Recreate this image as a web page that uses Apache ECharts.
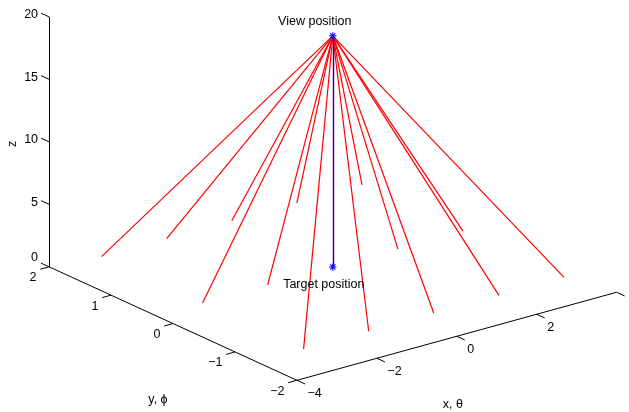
<!DOCTYPE html>
<html>
<head>
<meta charset="utf-8">
<script src="https://cdn.jsdelivr.net/npm/echarts@6/dist/echarts.min.js"></script>
<style>
  html, body { margin: 0; padding: 0; background: #ffffff; }
  #chart { width: 629px; height: 412px; }
</style>
</head>
<body>
<div id="chart"></div>
<script>
// ---- data -------------------------------------------------------------
// limits of the 3-D axes box
const xLimits = [-4, 4];
const yLimits = [-2, 2];
const zLimits = [0, 20];

// tick positions and their labels
const xTicks = [-4, -2, 0, 2, 4];
const xTickLabels = ['\u22124', '\u22122', '0', '2', ''];
const yTicks = [-2, -1, 0, 1, 2];
const yTickLabels = ['\u22122', '\u22121', '0', '1', '2'];
const zTicks = [0, 5, 10, 15, 20];
const zTickLabels = ['0', '5', '10', '15', '20'];

// camera and target
const viewPosition = [0, 0, 19.5];
const targetPosition = [0, 0, 1];

// end points of the rays cast from the view position (x, y, z)
const rayEndX = [-3.26, -1.63, 0, 1.63, 3.26, -3.26, -1.63, 0, 1.63, 3.26, -3.26, -1.63, 0, 1.63, 3.26];
const rayEndY = [1.63, 1.63, 1.63, 1.63, 1.63, 0, 0, 0, 0, 0, -1.63, -1.63, -1.63, -1.63, -1.63];
const rayEndZ = [1, 1, 1, 1, 1, 1, 1, 1, 1, 1, 1, 1, 1, 1, 1];

// ---- view settings ----------------------------------------------------
const AZIMUTH = -37.8;      // degrees
const ELEVATION = 20.8;     // degrees
const BOX_Z = 0.661;        // height of plot box relative to its width/depth
const PX_PER_UNIT = 404.5;  // pixels per normalized box unit
const BOX_CENTRE_PX = [332.8, 154.55];
const WIDTH = 629, HEIGHT = 412;
const TICK_LEN_X = 0.22;    // tick length, in x data units
const TICK_LEN_Y = 0.13;    // tick length, in y data units

const ca = Math.cos(AZIMUTH * Math.PI / 180);
const sa = Math.sin(AZIMUTH * Math.PI / 180);
const ce = Math.cos(ELEVATION * Math.PI / 180);
const se = Math.sin(ELEVATION * Math.PI / 180);

// orthographic projection of a data point onto the viewing plane
function project(x, y, z) {
  const xn = (x - xLimits[0]) / (xLimits[1] - xLimits[0]) - 0.5;
  const yn = (y - yLimits[0]) / (yLimits[1] - yLimits[0]) - 0.5;
  const zn = ((z - zLimits[0]) / (zLimits[1] - zLimits[0]) - 0.5) * BOX_Z;
  return [ca * xn + sa * yn, -sa * se * xn + ca * se * yn + ce * zn];
}

function seg(a, b) {
  return { coords: [project(a[0], a[1], a[2]), project(b[0], b[1], b[2])] };
}

// ---- geometry built from the data -------------------------------------
const axisSegments = [
  seg([xLimits[0], yLimits[0], zLimits[0]], [xLimits[1], yLimits[0], zLimits[0]]),
  seg([xLimits[0], yLimits[0], zLimits[0]], [xLimits[0], yLimits[1], zLimits[0]]),
  seg([xLimits[0], yLimits[1], zLimits[0]], [xLimits[0], yLimits[1], zLimits[1]])
];
xTicks.forEach(function (t) {
  axisSegments.push(seg([t, yLimits[0], zLimits[0]], [t, yLimits[0] - TICK_LEN_Y, zLimits[0]]));
});
yTicks.forEach(function (t) {
  axisSegments.push(seg([xLimits[0], t, zLimits[0]], [xLimits[0] - TICK_LEN_X, t, zLimits[0]]));
});
zTicks.forEach(function (t) {
  axisSegments.push(seg([xLimits[0], yLimits[1], t], [xLimits[0], yLimits[1] + TICK_LEN_Y, t]));
});

const raySegments = rayEndX.map(function (x, i) {
  return seg(viewPosition, [x, rayEndY[i], rayEndZ[i]]);
});
const sightSegment = [seg(viewPosition, targetPosition)];

const markerPoints = [
  project(viewPosition[0], viewPosition[1], viewPosition[2]),
  project(targetPosition[0], targetPosition[1], targetPosition[2])
];

// text items: anchor point, pixel offset, alignment, rotation
const texts = [];
xTicks.forEach(function (t, i) {
  texts.push({ p: project(t, yLimits[0], zLimits[0]), dx: 10.5, dy: 13, text: xTickLabels[i], align: 'left' });
});
yTicks.forEach(function (t, i) {
  texts.push({ p: project(xLimits[0], t, zLimits[0]), dx: -12.5, dy: 11, text: yTickLabels[i], align: 'right' });
});
zTicks.forEach(function (t, i) {
  // lowest label is lifted clear of the y-axis label below it
  texts.push({ p: project(xLimits[0], yLimits[1], t), dx: -11, dy: i === 0 ? -9.5 : -2, text: zTickLabels[i], align: 'right' });
});
texts.push({ p: project(xLimits[0], yLimits[1], (zLimits[0] + zLimits[1]) / 2), dx: -36, dy: 2, text: 'z', align: 'center', rotate: Math.PI / 2 });
texts.push({ p: project(xLimits[0], (yLimits[0] + yLimits[1]) / 2, zLimits[0]), dx: -15, dy: 76, text: 'y, \u03D5', align: 'center' });
texts.push({ p: project((xLimits[0] + xLimits[1]) / 2, yLimits[0], zLimits[0]), dx: -4, dy: 68, text: 'x, \u03B8', align: 'center' });
texts.push({ p: markerPoints[0], dx: -18, dy: -14.6, text: 'View position', align: 'center' });
texts.push({ p: markerPoints[1], dx: -9, dy: 18, text: 'Target position', align: 'center' });

const FONT = '"Liberation Sans", Arial, Helvetica, sans-serif';

const chart = echarts.init(document.getElementById('chart'), null, { renderer: 'canvas' });
chart.setOption({
  animation: false,
  backgroundColor: '#ffffff',
  grid: { left: 0, right: 0, top: 0, bottom: 0, containLabel: false, outerBoundsMode: 'none' },
  xAxis: {
    type: 'value', show: false,
    min: -BOX_CENTRE_PX[0] / PX_PER_UNIT,
    max: (WIDTH - BOX_CENTRE_PX[0]) / PX_PER_UNIT
  },
  yAxis: {
    type: 'value', show: false,
    min: -(HEIGHT - BOX_CENTRE_PX[1]) / PX_PER_UNIT,
    max: BOX_CENTRE_PX[1] / PX_PER_UNIT
  },
  series: [
    {
      type: 'lines', coordinateSystem: 'cartesian2d', silent: true, clip: false,
      lineStyle: { color: '#000000', width: 1, opacity: 1 },
      data: axisSegments
    },
    {
      type: 'lines', coordinateSystem: 'cartesian2d', silent: true, clip: false,
      lineStyle: { color: '#ff0000', width: 1.2, opacity: 1 },
      data: raySegments
    },
    {
      type: 'lines', coordinateSystem: 'cartesian2d', silent: true, clip: false,
      lineStyle: { color: '#0000ff', width: 1.3, opacity: 1 },
      data: sightSegment
    },
    {
      // asterisk markers at the view and target positions
      type: 'custom', coordinateSystem: 'cartesian2d', silent: true, clip: false,
      data: markerPoints,
      renderItem: function (params, api) {
        const c = api.coord([api.value(0), api.value(1)]);
        const r = 3.6, d = r * 0.72;
        const style = { stroke: '#0000ff', lineWidth: 1.1 };
        const l = function (x1, y1, x2, y2) {
          return { type: 'line', shape: { x1: c[0] + x1, y1: c[1] + y1, x2: c[0] + x2, y2: c[1] + y2 }, style: style };
        };
        return { type: 'group', children: [
          l(-r, 0, r, 0), l(0, -r, 0, r), l(-d, -d, d, d), l(-d, d, d, -d)
        ] };
      }
    },
    {
      type: 'custom', coordinateSystem: 'cartesian2d', silent: true, clip: false,
      data: texts.map(function (t) { return t.p; }),
      renderItem: function (params, api) {
        const t = texts[params.dataIndex];
        const c = api.coord([api.value(0), api.value(1)]);
        return {
          type: 'text',
          x: c[0] + t.dx, y: c[1] + t.dy,
          rotation: t.rotate || 0,
          style: {
            text: t.text, fill: '#000000',
            font: '12.5px ' + FONT,
            align: t.align, verticalAlign: 'middle'
          }
        };
      }
    }
  ]
});
</script>
</body>
</html>
